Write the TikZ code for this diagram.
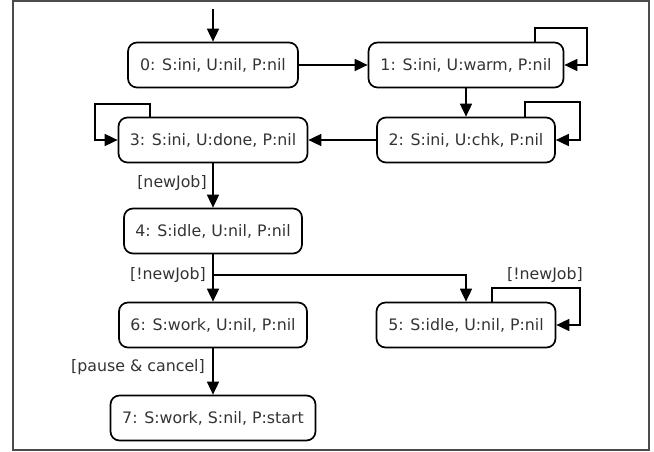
\documentclass[tikz,border=0pt]{standalone}
\usepackage{fontspec}
\setmainfont{DejaVu Sans}
\usetikzlibrary{arrows.meta}
\begin{document}
\begin{tikzpicture}[x=1pt,y=-1pt,
  st/.style={draw,line width=1.7pt,rounded corners=9pt,minimum height=45pt,inner sep=0pt,font=\fontsize{15.8}{18}\selectfont,text=black!80},
  lbl/.style={font=\fontsize{15.8}{18}\selectfont,text=black!80,inner sep=0pt},
  tr/.style={line width=1.7pt,-{Triangle[length=13pt,width=12pt]}}]
\useasboundingbox (0,0) rectangle (654,452);
\draw[line width=1.2pt,black!70] (13,1) rectangle (649,450);
\node[st,minimum width=170pt] (s0) at (213,65) {0: S:ini, U:nil, P:nil};
\node[st,minimum width=195pt] (s1) at (466,65) {1: S:ini, U:warm, P:nil};
\node[st,minimum width=178pt] (s2) at (466,140) {2: S:ini, U:chk, P:nil};
\node[st,minimum width=189pt] (s3) at (213,140) {3: S:ini, U:done, P:nil};
\node[st,minimum width=178pt] (s4) at (213,231) {4: S:idle, U:nil, P:nil};
\node[st,minimum width=179pt] (s5) at (466,325) {5: S:idle, U:nil, P:nil};
\node[st,minimum width=188pt] (s6) at (213,325) {6: S:work, U:nil, P:nil};
\node[st,minimum width=205pt] (s7) at (213,418) {7: S:work, S:nil, P:start};
\coordinate (init) at (213,9);
\coordinate (br) at (213,275);
\draw[tr] (init) -- (s0.north);
\draw[tr] (s0) -- (s1);
\draw[tr] (s1) -- (s2);
\draw[tr] (s2) -- (s3);
\draw[tr] (s3) -- (s4);
\draw[tr] (s4) -- (s6);
\draw[tr] (s6) -- (s7);
\draw[tr] (br) -| (s5.north);
\draw[tr] (535,43) |- (587,28) |- (s1.east);
\draw[tr] (525,117) |- (580,102) |- (s2.east);
\draw[tr] (150,117) |- (95,104) |- (s3.west);
\draw[tr] (492,302) |- (580,288) |- (s5.east);
\node[lbl] (l1) at (172,183) {[newJob]};
\node[lbl] (l2) at (168,275) {[!newJob]};
\node[lbl] (l3) at (138,367) {[pause \& cancel]};
\node[lbl] (l4) at (545,275) {[!newJob]};
\end{tikzpicture}
\end{document}
